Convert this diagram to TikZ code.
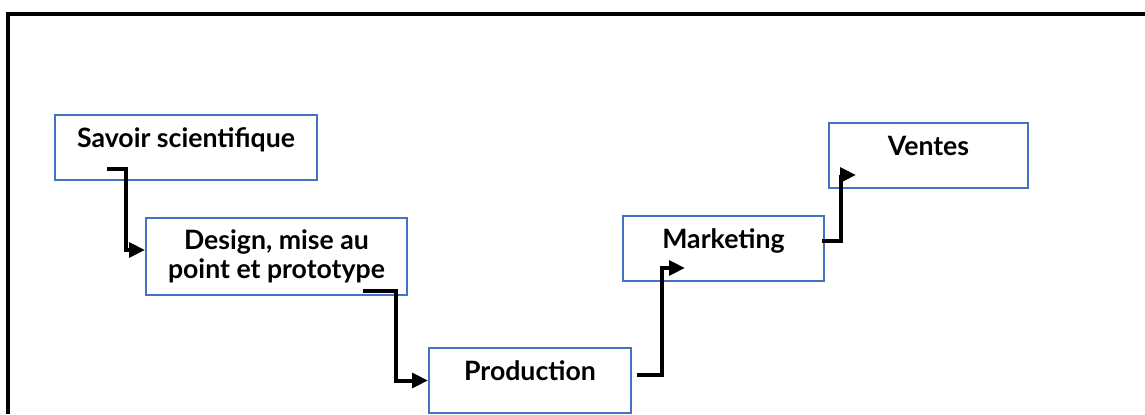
\documentclass[tikz,border=0pt]{standalone}
\usepackage{fontspec}
\setmainfont{Lato}
\usetikzlibrary{arrows.meta, calc}
\definecolor{boxblue}{RGB}{68,114,196}

\tikzset{
  boxline/.style={draw=boxblue, line width=1.5pt, rectangle, inner sep=0pt,
    font=\fontsize{20}{22}\selectfont\bfseries},
  stepbox/.style={boxline, text height=24pt, text depth=24.75pt},
  twobox/.style={boxline, align=center, minimum height=57.75pt},
  flow/.style={line width=3pt, -{Triangle[length=12pt,width=11pt]}},
}

\begin{document}
\begin{tikzpicture}[x=0.75pt,y=-0.75pt]
  \useasboundingbox (0,0) rectangle (1145,414);
  % frame
  \draw[line width=3pt] (7.5,414) -- (7.5,14) -- (1145,14);
  % boxes
  \node[stepbox, minimum width=196.5pt] (savoir) at (186,147.5) {Savoir scientifique};
  \node[twobox, minimum width=195.75pt] (design) at (276.5,256.5) {Design, mise au\\point et prototype};
  \node[stepbox, minimum width=151.5pt] (production) at (530,380.5) {Production};
  \node[stepbox, minimum width=150.75pt] (marketing) at (723.5,248.5) {Marketing};
  \node[stepbox, minimum width=149.25pt] (ventes) at (928.5,155.5) {Ventes};
  % steps
  \draw[flow] ($(savoir.south west)+(53,-12)$) -- ++(19,0) |- ($(design.west)+(0,-6.5)$);
  \draw[flow] ($(design.south east)+(-45,-5)$) -- ++(33,0) |- (production.west);
  \draw[flow] ($(production.east)+(5,-5.5)$) -- ++(25,0) |- ($(marketing.south west)+(63,-14)$);
  \draw[flow] ($(marketing.east)+(-3,-7.5)$) -- ++(19,0) |- ($(ventes.south west)+(28,-14)$);
\end{tikzpicture}
\end{document}
